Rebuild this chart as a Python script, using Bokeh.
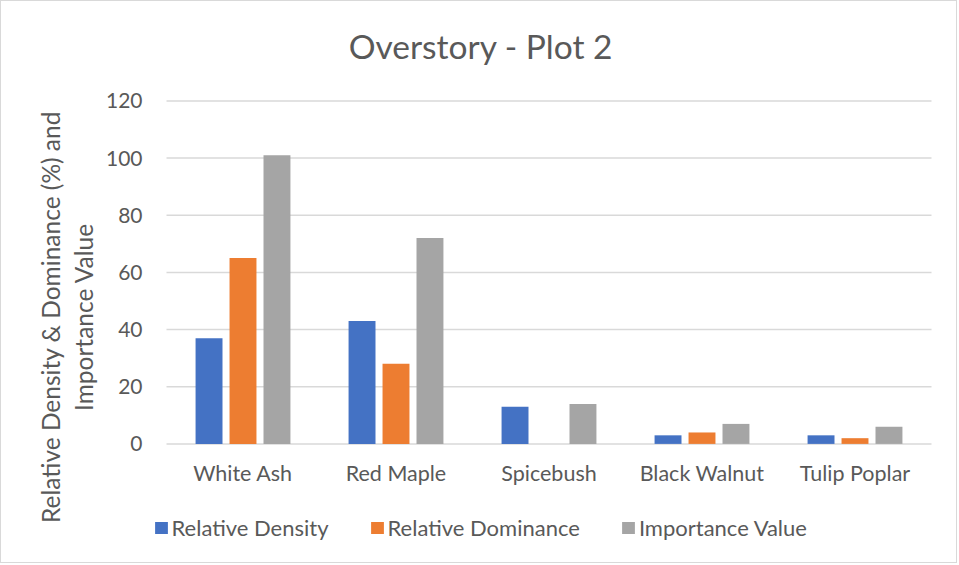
import math

from bokeh.embed import file_html
from bokeh.models import (ColumnDataSource, FixedTicker, Label, Legend,
                          LegendItem, Range1d)
from bokeh.plotting import figure
from bokeh.resources import INLINE
from bokeh.transform import dodge

# Overstory survey, plot 2
species = ["White Ash", "Red Maple", "Spicebush", "Black Walnut", "Tulip Poplar"]
relative_density = [37, 43, 13, 3, 3]
relative_dominance = [65, 28, 0, 4, 2]
importance_value = [101, 72, 14, 7, 6]
y_ticks = [0, 20, 40, 60, 80, 100, 120]

series_names = ["Relative Density", "Relative Dominance", "Importance Value"]
series_colors = ["#4472C4", "#ED7D31", "#A5A5A5"]
chart_title = "Overstory - Plot 2"
y_title_lines = ["Relative Density & Dominance (%) and", "Importance Value"]

FONT = "Lato"
TEXT_COLOR = "#595959"
GRID_COLOR = "#D9D9D9"

# canvas geometry: the frame fills the whole canvas, the axes sit at fixed
# data locations inside it
W, H = 957, 563
CAT_PX = 153.0                 # width of one category slot
UNIT_PX = 343.0 / 120.0        # pixels per y unit
PLOT_LEFT = 165.0              # canvas x of the first category's left edge
Y120_AT = 99.4                 # canvas y of the 120 gridline

x_start = 0.5 - PLOT_LEFT / CAT_PX
y_top = 120 + Y120_AT / UNIT_PX


def cx(px):
    """canvas x pixel -> data x"""
    return x_start + px / CAT_PX


def cy(px):
    """canvas y pixel (from top) -> data y"""
    return y_top - px / UNIT_PX


positions = list(range(1, len(species) + 1))
source = ColumnDataSource(dict(
    pos=positions,
    density=relative_density,
    dominance=relative_dominance,
    importance=importance_value,
))

p = figure(
    width=W, height=H, min_border=0,
    x_range=Range1d(x_start, x_start + W / CAT_PX),
    y_range=Range1d(y_top - H / UNIT_PX, y_top),
    output_backend="svg", toolbar_location=None,
    background_fill_color="white", border_fill_color="white",
    styles={"border": "1px solid #D9D9D9"},
)
p.outline_line_color = None
p.grid.grid_line_color = None

# horizontal gridlines across the category area
p.segment(x0=0.5, x1=len(species) + 0.5, y0=y_ticks, y1=y_ticks,
          line_color=GRID_COLOR, line_width=1.5)

bar_width = 0.176
offsets = [-0.222, 0.0, 0.222]
fields = ["density", "dominance", "importance"]
renderers = []
for field, off, color in zip(fields, offsets, series_colors):
    r = p.vbar(x=dodge("pos", off), top=field, bottom=0, width=bar_width,
               source=source, fill_color=color, line_color=None)
    renderers.append(r)

# axes pinned to the data origin of the category area
xa, ya = p.xaxis[0], p.yaxis[0]
xa.fixed_location = 0
ya.fixed_location = 0.5
xa.ticker = FixedTicker(ticks=positions)
xa.major_label_overrides = {pos: name for pos, name in zip(positions, species)}
ya.ticker = FixedTicker(ticks=y_ticks)
for ax in (xa, ya):
    ax.axis_line_color = None
    ax.major_tick_line_color = None
    ax.minor_tick_line_color = None
    ax.major_tick_out = 0
    ax.major_tick_in = 0
    ax.major_label_text_font = FONT
    ax.major_label_text_color = TEXT_COLOR
ya.major_label_text_font_size = "21px"
xa.major_label_text_font_size = "21.5px"
ya.major_label_standoff = 24
xa.major_label_standoff = 16

# chart title
p.add_layout(Label(x=cx(479.5), y=cy(44.0), text=chart_title,
                   text_font=FONT, text_font_size="33.5px", text_color=TEXT_COLOR,
                   text_align="center", text_baseline="alphabetic"))

# y-axis title, two centred lines
for line, base_px in zip(y_title_lines, [49.0, 81.5]):
    p.add_layout(Label(x=cx(base_px), y=cy(315.5), text=line, angle=math.pi / 2,
                       text_font=FONT, text_font_size="24.5px", text_color=TEXT_COLOR,
                       text_align="center", text_baseline="alphabetic"))

legend = Legend(
    items=[LegendItem(label=n, renderers=[r]) for n, r in zip(series_names, renderers)],
    orientation="horizontal", location=(151.5, 23),
    glyph_width=16, glyph_height=15, label_standoff=3, spacing=40,
    padding=0, margin=0, border_line_color=None, background_fill_alpha=0,
    label_text_font=FONT, label_text_font_size="22px", label_text_color=TEXT_COLOR,
)
p.add_layout(legend, "center")

open("out.html", "w").write(file_html(p, INLINE))
